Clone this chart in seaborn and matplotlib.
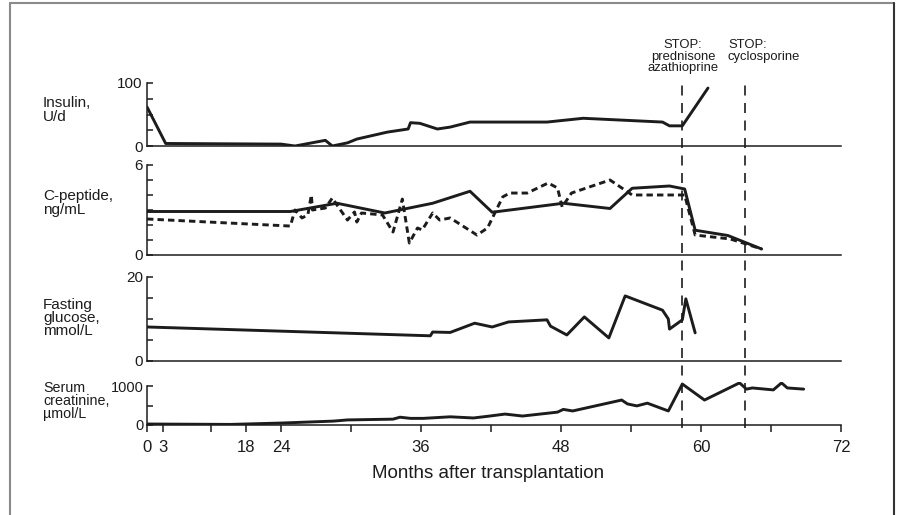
import numpy as np
import matplotlib
matplotlib.use('Agg')
import matplotlib.pyplot as plt
from matplotlib.lines import Line2D
import seaborn as sns

# ---- data (months after transplantation) ----
insulin_month = [0, 3.5, 24.0, 25.2, 27.8, 28.4, 29.7, 30.5, 33.1, 34.9, 35.1, 35.9, 37.4, 38.5,
                 40.2, 46.8, 49.9, 56.7, 57.3, 58.4, 60.6]
insulin_val = [62, 4, 3, 0, 9, 0, 5, 11, 22, 27, 37, 36, 27, 30,
               38, 38, 44, 38, 32, 32, 92]

cpep_solid_month = [0, 24.8, 28.8, 32.9, 37.0, 40.2, 42.1, 48.2, 52.2, 54.1, 57.3, 58.6, 59.5, 62.3, 65.2]
cpep_solid_val = [2.9, 2.9, 3.45, 2.8, 3.45, 4.25, 2.85, 3.45, 3.1, 4.45, 4.6, 4.4, 1.65, 1.3, 0.4]

cpep_dash_month = [0, 24.8, 25.2, 25.8, 26.3, 26.6, 26.7, 27.8, 28.4, 28.8, 29.7, 30.3, 30.5, 30.9,
                   32.7, 33.6, 34.4, 35.0, 35.7, 36.1, 37.0, 37.6, 38.5, 40.8, 41.7, 43.0, 43.6,
                   45.1, 46.9, 47.7, 48.1, 48.9, 52.2, 54.1, 58.6, 59.5, 62.5, 65.2]
cpep_dash_val = [2.4, 1.93, 3.0, 2.47, 2.67, 4.0, 3.0, 3.13, 3.8, 3.33, 2.33, 2.87, 2.2, 2.8,
                 2.67, 1.53, 3.73, 0.8, 1.8, 1.67, 2.8, 2.33, 2.47, 1.33, 1.8, 3.87, 4.13,
                 4.13, 4.8, 4.47, 3.2, 4.13, 5.0, 4.0, 4.0, 1.33, 1.07, 0.4]

glucose_month = [0, 36.8, 37.0, 38.5, 40.6, 42.1, 43.5, 46.8, 47.1, 48.5, 50.0, 52.1, 53.5,
                 56.7, 57.2, 57.3, 58.4, 58.7, 59.5]
glucose_val = [8.1, 6.0, 6.9, 6.8, 9.0, 8.1, 9.3, 9.8, 8.3, 6.2, 10.5, 5.5, 15.5,
               12.1, 10.0, 7.6, 9.8, 14.8, 6.7]

creat_month = [0, 15.4, 24.0, 28.5, 29.7, 33.6, 34.2, 35.1, 36.2, 38.5, 40.5, 41.9, 43.2, 44.7,
               47.7, 48.2, 49.0, 53.2, 53.7, 54.5, 55.4, 57.2, 58.4, 60.3, 63.3, 63.9, 64.4,
               66.2, 66.9, 67.4, 68.8]
creat_val = [25, 15, 50, 100, 130, 150, 200, 170, 170, 210, 180, 230, 280, 230,
             330, 400, 360, 640, 540, 490, 560, 360, 1050, 640, 1080, 920, 950,
             900, 1080, 950, 920]

stop_months = [58.4, 63.8]
xtick_pos = [0, 3, 12, 18, 24, 30, 36, 42, 48, 54, 60, 66, 72]
xtick_lab = ['0', '3', '', '18', '24', '', '36', '', '48', '', '60', '', '72']

# the time axis is compressed before month 24
knot_m = np.array([0, 3, 12, 18, 24, 72], dtype=float)
knot_p = np.array([0, 16, 64, 99, 134, 694], dtype=float)


def fwd(x):
    return np.interp(x, knot_m, knot_p)


def inv(p):
    return np.interp(p, knot_p, knot_m)


sns.set_theme(style='white')
plt.rcParams['font.family'] = ['Liberation Sans', 'DejaVu Sans']
ink = '#1c1c1c'

W, H = 900, 515
fig = plt.figure(figsize=(W / 100, H / 100), dpi=100)


def panel(top_px, bot_px):
    ax = fig.add_axes([147 / W, 1 - bot_px / H, 694 / W, (bot_px - top_px) / H])
    ax.set_xscale('function', functions=(fwd, inv))
    ax.set_xlim(0, 72.2)
    ax.set_facecolor('none')
    for s in ['top', 'right']:
        ax.spines[s].set_visible(False)
    for s in ['left', 'bottom']:
        ax.spines[s].set_color(ink)
        ax.spines[s].set_linewidth(1.1)
    ax.tick_params(axis='y', direction='in', length=4, width=1.1, color=ink,
                   labelsize=11, labelcolor=ink, pad=3, left=True)
    return ax


lw = 2.1
line_kw = dict(color=ink, lw=lw, sort=False, estimator=None)

ax1 = panel(83, 146)
sns.lineplot(x=insulin_month, y=insulin_val, ax=ax1, **line_kw)
ax1.set_ylim(0, 100)
ax1.set_yticks([0, 25, 50, 75, 100], ['0', '', '', '', '100'])

ax2 = panel(165, 255)
sns.lineplot(x=cpep_solid_month, y=cpep_solid_val, ax=ax2, **line_kw)
sns.lineplot(x=cpep_dash_month, y=cpep_dash_val, ax=ax2, linestyle=(0, (2.2, 1.4)), **line_kw)
ax2.set_ylim(0, 6)
ax2.set_yticks(range(7), ['0', '', '', '', '', '', '6'])

ax3 = panel(277, 361)
sns.lineplot(x=glucose_month, y=glucose_val, ax=ax3, **line_kw)
ax3.set_ylim(0, 20)
ax3.set_yticks([0, 5, 10, 15, 20], ['0', '', '', '', '20'])

ax4 = panel(382.1, 425)
sns.lineplot(x=creat_month, y=creat_val, ax=ax4, **line_kw)
ax4.set_ylim(0, 1100)
ax4.set_yticks([0, 500, 1000], ['0', '', '1000'])
ax4.tick_params(axis='y', labelsize=10.5, pad=2.5)

for ax, top in ((ax1, 100), (ax2, 6), (ax3, 20), (ax4, 1000)):
    ax.spines['left'].set_bounds(0, top)
    ax.set_xlabel('')
    ax.set_ylabel('')
for ax in (ax1, ax2, ax3):
    ax.set_xticks([])

ax4.set_xticks(xtick_pos, xtick_lab)
ax4.tick_params(axis='x', direction='out', length=5, width=1.1, color=ink,
                labelsize=12, labelcolor=ink, pad=6, bottom=True)

# overlay for the STOP lines crossing all panels
axo = fig.add_axes([147 / W, 1 - 428 / H, 694 / W, (428 - 83) / H])
axo.set_xscale('function', functions=(fwd, inv))
axo.set_xlim(0, 72.2)
axo.axis('off')
for m in stop_months:
    axo.axvline(m, color=ink, lw=1.2, linestyle=(0, (6, 4.5)))

# y labels
lab_kw = dict(fontsize=11, color=ink, ha='left', va='center', linespacing=0.95)
fig.text(43 / W, 1 - 110 / H, 'Insulin,\nU/d', **lab_kw)
fig.text(43 / W, 1 - 203 / H, 'C-peptide,\nng/mL', **lab_kw)
fig.text(43 / W, 1 - 318 / H, 'Fasting\nglucose,\nmmol/L', **lab_kw)
fig.text(43 / W, 1 - 381 / H, 'Serum\ncreatinine,\n\u00b5mol/L', fontsize=10.3, color=ink,
         ha='left', va='top', linespacing=0.9)

# STOP annotations
fig.text(683 / W, 1 - 39 / H, 'STOP:\nprednisone\nazathioprine', fontsize=9.4, color=ink,
         ha='center', va='top', linespacing=0.95)
fig.text(728 / W, 1 - 39 / H, 'STOP:\ncyclosporine', fontsize=9.4, color=ink,
         ha='left', va='top', linespacing=0.95, multialignment='left')

fig.text(488 / W, 1 - 473 / H, 'Months after transplantation', fontsize=13.5, color=ink,
         ha='center', va='center')

# page frame (left, top, right)
frame_kw = dict(lw=1.5, transform=fig.transFigure)
fig.add_artist(Line2D([9.5 / W, 9.5 / W], [0, 1 - 3 / H], color='#8a8a8a', **frame_kw))
fig.add_artist(Line2D([9.5 / W, 894 / W], [1 - 3 / H, 1 - 3 / H], color='#8a8a8a', **frame_kw))
fig.add_artist(Line2D([894 / W, 894 / W], [0, 1 - 3 / H], color='#333333', **frame_kw))

fig.savefig('out.png', dpi=100)
